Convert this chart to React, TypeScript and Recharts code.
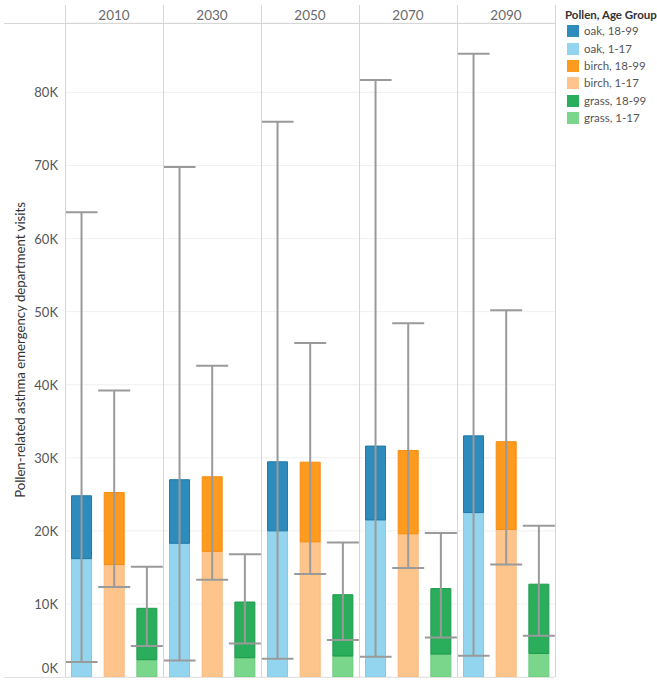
import React from 'react';
import { BarChart, Bar, XAxis, YAxis, CartesianGrid, ErrorBar, Cell } from 'recharts';

const years = ['2010', '2030', '2050', '2070', '2090'];
const pollens = ['oak', 'birch', 'grass'];
const ageGroups = ['18-99', '1-17'];

// visits per year, ages 1-17 (bottom of stack) and 18-99 (top of stack)
const oakYoung = [16200, 18300, 20000, 21500, 22500];
const oakAdult = [8600, 8700, 9450, 10100, 10500];
const birchYoung = [15400, 17200, 18500, 19600, 20200];
const birchAdult = [9850, 10200, 10900, 11400, 12000];
const grassYoung = [2370, 2640, 2870, 3140, 3230];
const grassAdult = [7030, 7620, 8390, 8960, 9470];

// uncertainty range of the total
const oakLow = [2050, 2270, 2500, 2780, 2900];
const oakHigh = [63600, 69800, 76000, 81700, 85300];
const birchLow = [12300, 13300, 14100, 14900, 15400];
const birchHigh = [39200, 42600, 45700, 48400, 50200];
const grassLow = [4240, 4600, 5060, 5420, 5650];
const grassHigh = [15100, 16800, 18400, 19700, 20700];

const yTicks = [0, 10000, 20000, 30000, 40000, 50000, 60000, 70000, 80000];
const Y_MAX = 89500;

const adultFill: Record<string, string> = { oak: '#2e8cbc', birch: '#fe9a1d', grass: '#2aae5b' };
const youngFill: Record<string, string> = { oak: '#93d5ef', birch: '#fdc58b', grass: '#79d68b' };
const adultStroke: Record<string, string> = { oak: '#1f78a8', birch: '#f48c10', grass: '#1e9a4b' };
const youngStroke: Record<string, string> = { oak: '#84c9e6', birch: '#f8b97d', grass: '#6bcb7d' };

const series: Record<string, number[][]> = {
  oak: [oakYoung, oakAdult, oakLow, oakHigh],
  birch: [birchYoung, birchAdult, birchLow, birchHigh],
  grass: [grassYoung, grassAdult, grassLow, grassHigh],
};

function panelData(i: number) {
  return pollens.map((p) => {
    const [young, adult, low, high] = series[p];
    const total = young[i] + adult[i];
    return {
      pollen: p,
      young: young[i],
      adult: adult[i],
      err: [total - low[i], high[i] - total],
    };
  });
}

const H = 683;
const AXIS_W = 65;
const PANEL_W = 98;
const TOP = 23;
const BOTTOM = 6;
const FONT = 'Lato, "Noto Sans", sans-serif';

const YTick = (props: any) => {
  const { x, y, payload } = props;
  const dy = payload.value === 0 ? -9 : 0;
  return (
    <text x={x} y={y + dy} textAnchor="end" dominantBaseline="central" fontSize={13} fill="#555" fontFamily={FONT}>
      {`${payload.value / 1000}K`}
    </text>
  );
};

const AxisTitle = (props: any) => {
  const vb = props.viewBox || { y: TOP, height: H - TOP - BOTTOM };
  const cy = vb.y + vb.height / 2;
  return (
    <text
      x={20}
      y={cy}
      transform={`rotate(-90 20 ${cy})`}
      textAnchor="middle"
      dominantBaseline="central"
      fontSize={13.2}
      fill="#333"
      fontFamily={FONT}
    >
      Pollen-related asthma emergency department visits
    </text>
  );
};

function Panel({ index }: { index: number }) {
  const first = index === 0;
  const data = panelData(index);
  return (
    <BarChart
      width={first ? AXIS_W + PANEL_W : PANEL_W}
      height={H}
      data={data}
      margin={{ top: TOP, right: 0, bottom: BOTTOM, left: 0 }}
      barCategoryGap="20%"
    >
      <CartesianGrid vertical={false} stroke="#f0f0f0" />
      <XAxis dataKey="pollen" hide />
      <YAxis
        hide={!first}
        width={AXIS_W}
        domain={[0, Y_MAX]}
        ticks={yTicks}
        interval={0}
        axisLine={false}
        tickLine={false}
        tickMargin={1}
        tick={<YTick />}
        label={first ? { content: <AxisTitle /> } : undefined}
      />
      <Bar dataKey="young" stackId="a" isAnimationActive={false}>
        {data.map((d) => (
          <Cell key={d.pollen} fill={youngFill[d.pollen]} stroke={youngStroke[d.pollen]} strokeWidth={1} />
        ))}
      </Bar>
      <Bar dataKey="adult" stackId="a" isAnimationActive={false}>
        {data.map((d) => (
          <Cell key={d.pollen} fill={adultFill[d.pollen]} stroke={adultStroke[d.pollen]} strokeWidth={1} />
        ))}
        <ErrorBar dataKey="err" width={16} stroke="#9a9a9a" strokeWidth={2} direction="y" />
      </Bar>
    </BarChart>
  );
}

export default function App() {
  const legendItems = pollens.flatMap((p) =>
    ageGroups.map((g) => ({ label: `${p}, ${g}`, color: g === '18-99' ? adultFill[p] : youngFill[p] }))
  );
  return (
    <div style={{ position: 'absolute', left: 0, top: 0, width: 657, height: H, background: '#fff', fontFamily: FONT }}>
      {years.map((yr, i) => (
        <div
          key={yr}
          style={{
            position: 'absolute',
            left: i === 0 ? 0 : AXIS_W + i * PANEL_W,
            top: 0,
          }}
        >
          <Panel index={i} />
        </div>
      ))}

      {/* facet frame */}
      <div style={{ position: 'absolute', left: 4, top: TOP, width: AXIS_W + 5 * PANEL_W - 4, height: 1, background: '#d6d6d6' }} />
      <div style={{ position: 'absolute', left: 4, top: H - BOTTOM, width: AXIS_W + 5 * PANEL_W - 4, height: 1, background: '#e2e2e2' }} />
      {[0, 1, 2, 3, 4, 5].map((i) => (
        <div
          key={i}
          style={{ position: 'absolute', left: AXIS_W + i * PANEL_W, top: 5, width: 1, height: H - BOTTOM - 5, background: '#d6d6d6' }}
        />
      ))}
      {years.map((yr, i) => (
        <div
          key={yr}
          style={{
            position: 'absolute',
            left: AXIS_W + i * PANEL_W,
            top: 6,
            width: PANEL_W,
            textAlign: 'center',
            fontSize: 13.5,
            lineHeight: '18px',
            color: '#6a6a6a',
          }}
        >
          {yr}
        </div>
      ))}

      {/* legend */}
      <div style={{ position: 'absolute', left: 565, top: 7, fontSize: 11.5, lineHeight: '16px', color: '#333', fontWeight: 700 }}>
        Pollen, Age Group
      </div>
      {legendItems.map((it, k) => (
        <div
          key={it.label}
          style={{ position: 'absolute', left: 567, top: 31.3 + k * 17.35 - 8, height: 16, display: 'flex', alignItems: 'center' }}
        >
          <div style={{ width: 12, height: 12, background: it.color, marginRight: 5 }} />
          <span style={{ fontSize: 11.5, color: '#555', lineHeight: '16px' }}>{it.label}</span>
        </div>
      ))}
    </div>
  );
}
